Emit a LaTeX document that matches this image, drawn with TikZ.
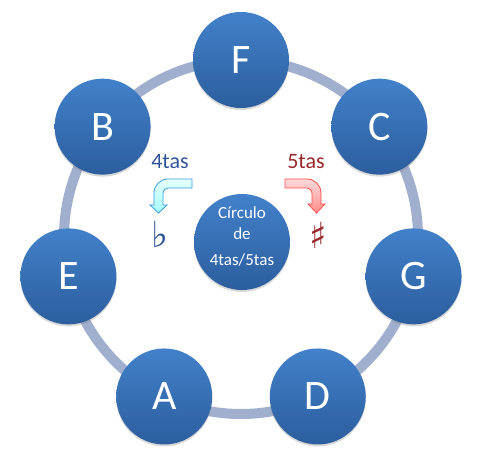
\documentclass[tikz,border=0pt]{standalone}
\usepackage{fontspec}
\setmainfont{Carlito}
\newfontfamily\musica{DejaVu Sans}
\usetikzlibrary{shadows}
\definecolor{notaarriba}{RGB}{66,129,202}
\definecolor{notaabajo}{RGB}{44,94,158}
\definecolor{anillo}{RGB}{160,175,205}
\definecolor{azulcuartas}{RGB}{47,85,151}
\definecolor{rojoquintas}{RGB}{150,40,42}
\tikzset{
    nota/.style={circle, minimum size=96pt, inner sep=0pt, top color=notaarriba, bottom color=notaabajo, text=white, font=\fontsize{42}{42}\selectfont, drop shadow={opacity=0.3, shadow xshift=0pt, shadow yshift=-2pt}},
    centro/.style={circle, minimum size=96pt, inner sep=0pt, top color=notaarriba, bottom color=notaabajo, drop shadow={opacity=0.3, shadow xshift=0pt, shadow yshift=-2pt}},
    centrotexto/.style={align=center, inner sep=0pt, text=white, font=\fontsize{17}{21}\selectfont},
    etiqueta/.style={inner sep=0pt, font=\fontsize{22}{22}\selectfont},
    signo/.style={inner sep=0pt, font=\musica\fontsize{36}{36}\selectfont},
    flechaazul/.style={draw=cyan!70!blue!80, line width=0.8pt, top color=cyan!10, bottom color=cyan!35},
    flecharoja/.style={draw=red!70, line width=0.8pt, top color=red!15, bottom color=red!45}
}

\begin{document}
\begin{tikzpicture}[x=1pt, y=1pt]
    \useasboundingbox (-241,-231) rectangle (240,237);

    % -----------------------------------------------------------------
    % ANILLO
    % -----------------------------------------------------------------
    \draw[anillo, line width=10pt] (0,0) circle[radius=177pt];

    % -----------------------------------------------------------------
    % NOTAS
    % -----------------------------------------------------------------
    \foreach \n/\a in {F/90, C/38.57, G/-12.86, D/-64.29, A/-115.71, E/192.86, B/141.43} {
        \node[nota] (\n) at (\a:177pt) {\n};
    }

    % -----------------------------------------------------------------
    % CIRCULO CENTRAL
    % -----------------------------------------------------------------
    \node[centro] (circulo) at (1,-5) {};
    \node[centrotexto] (titulo) at ([yshift=6pt]circulo.center) {Círculo\\de\\[5pt]4tas/5tas};

    % Flechas
    \draw[flechaazul] (-49,58) -- (-73,58) arc[start angle=90, end angle=180, radius=14pt]
        -- (-87,32) -- (-91,32) -- (-82.5,24) -- (-74,32) -- (-78,32) -- (-78,44)
        arc[start angle=180, end angle=90, radius=5pt] -- (-49,49) -- cycle;
    \draw[flecharoja] (44,58) -- (66,58) arc[start angle=90, end angle=0, radius=14pt]
        -- (80,33) -- (84,33) -- (75.5,24) -- (67,33) -- (71,33) -- (71,44)
        arc[start angle=0, end angle=90, radius=5pt] -- (44,49) -- cycle;

    % Etiquetas
    \node[etiqueta, text=azulcuartas] (cuartas) at (-71,75) {4tas};
    \node[etiqueta, text=rojoquintas] (quintas) at (65,75) {5tas};
    \node[signo, text=azulcuartas] (bemol) at (-81,3) {♭};
    \node[signo, text=rojoquintas] (sostenido) at (77,2) {♯};

\end{tikzpicture}
\end{document}
